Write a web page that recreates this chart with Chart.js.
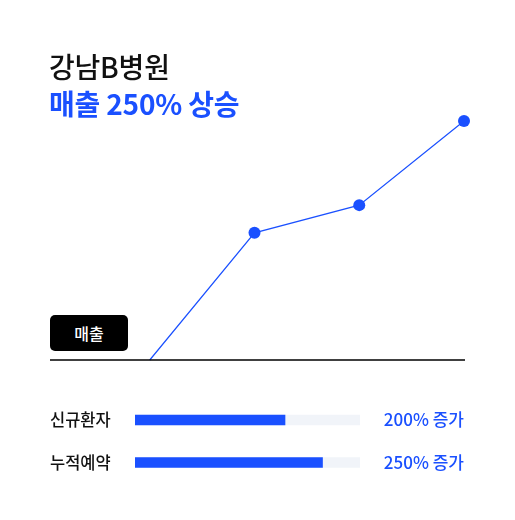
<!DOCTYPE html>
<html>
<head>
<meta charset="utf-8">
<script src="https://cdn.jsdelivr.net/npm/chart.js@4"></script>
<style>
  html, body { margin: 0; padding: 0; background: #fff; }
  body { width: 515px; height: 520px; position: relative; overflow: hidden; font-family: "Noto Sans CJK KR", sans-serif; }
  .title { position: absolute; left: 49px; top: 48px; font-size: 28px; line-height: 37px; letter-spacing: -0.2px; }
  .title .t1 { color: #111; font-weight: 500; }
  .title .t2 { color: #1a50ff; font-weight: 700; }
  #lineWrap { position: absolute; left: 0; top: 0; width: 515px; height: 380px; }
  #barWrap { position: absolute; left: 0; top: 380px; width: 515px; height: 120px; }
  .tag { position: absolute; left: 50px; top: 315px; width: 78px; height: 36px; background: #000; border-radius: 5px;
         color: #fff; font-size: 16px; font-weight: 500; line-height: 36px; text-align: center; }
</style>
</head>
<body>
<div id="lineWrap"><canvas id="lineChart"></canvas></div>
<div id="barWrap"><canvas id="barChart"></canvas></div>
<div class="title"><div class="t1">강남B병원</div><div class="t2">매출 250% 상승</div></div>
<div class="tag">매출</div>
<script>
// revenue trend (index, value in %)
const periods = [1, 2, 3, 4];
const revenue = [0, 133, 162, 250];

// bottom metrics
const metrics = ['신규환자', '누적예약'];
const growth = [200, 250];
const growthLabels = ['200% 증가', '250% 증가'];
const maxGrowth = 300;

const blue = '#1a50ff';

// baseline under the line chart
const baseline = {
    id: 'baseline',
    afterDraw(chart) {
        const c = chart.ctx;
        const y = chart.scales.y.getPixelForValue(0);
        c.save();
        c.strokeStyle = '#000';
        c.lineWidth = 1.3;
        c.beginPath();
        c.moveTo(50, y);
        c.lineTo(465, y);
        c.stroke();
        c.restore();
    }
};

new Chart(document.getElementById('lineChart'), {
    type: 'line',
    data: {
        datasets: [{
            data: periods.map((p, i) => ({ x: p, y: revenue[i] })),
            borderColor: blue,
            borderWidth: 1.2,
            pointRadius: revenue.map((v, i) => i === 0 ? 0 : 6),
            pointBackgroundColor: blue,
            pointBorderWidth: 0,
            clip: false,
            tension: 0
        }]
    },
    options: {
        responsive: true,
        maintainAspectRatio: false,
        animation: false,
        layout: { padding: { left: 45, right: 51, top: 121, bottom: 20 } },
        plugins: { legend: { display: false }, tooltip: { enabled: false } },
        scales: {
            x: { type: 'linear', min: 0, max: 4, display: false },
            y: { min: 0, max: 250, display: false }
        }
    },
    plugins: [baseline]
});

// labels on the left and growth text on the right
const barText = {
    id: 'barText',
    afterDraw(chart) {
        const c = chart.ctx;
        const ys = chart.scales.y;
        c.save();
        c.textBaseline = 'middle';
        metrics.forEach((m, i) => {
            const y = ys.getPixelForValue(i);
            c.font = '500 16.5px "Noto Sans CJK KR"';
            c.fillStyle = '#111';
            c.textAlign = 'left';
            c.fillText(m, 50, y);
            c.font = '500 17px "Noto Sans CJK KR"';
            c.fillStyle = blue;
            c.textAlign = 'right';
            c.fillText(growthLabels[i], 464, y);
        });
        c.restore();
    }
};

new Chart(document.getElementById('barChart'), {
    type: 'bar',
    data: {
        labels: metrics,
        datasets: [
            { data: growth, backgroundColor: blue, barThickness: 10, grouped: false, order: 0 },
            { data: metrics.map(() => maxGrowth), backgroundColor: '#f1f4f9', barThickness: 10, grouped: false, order: 1 }
        ]
    },
    options: {
        indexAxis: 'y',
        responsive: true,
        maintainAspectRatio: false,
        animation: false,
        layout: { padding: { left: 135, right: 155, top: 18.75, bottom: 16.25 } },
        plugins: { legend: { display: false }, tooltip: { enabled: false } },
        scales: {
            x: { min: 0, max: maxGrowth, display: false },
            y: { display: false }
        }
    },
    plugins: [barText]
});
</script>
</body>
</html>
